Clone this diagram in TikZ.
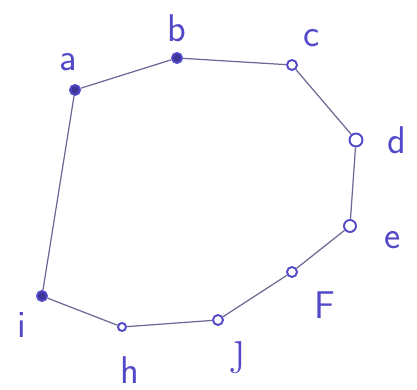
\documentclass[tikz,border=0pt]{standalone}
\usepackage{tikz}
\usepackage{xcolor}

\definecolor{ink}{RGB}{82,72,200}
\definecolor{pencil}{RGB}{105,105,150}

\begin{document}
\begin{tikzpicture}[
        vertex/.style={circle, draw=ink, line width=1.1pt, inner sep=0pt, minimum size=0.2cm, fill=white},
        heavy/.style={vertex, fill=ink!75!black},
        edge/.style={draw=pencil, line width=0.7pt},
        letter/.style={text=ink, font=\fontsize{22}{22}\sffamily, inner sep=0pt}
    ]
        \useasboundingbox (0,0) rectangle (8.34,7.8);

        \node[heavy] (a) at (1.50,6.00) {};
        \node[heavy] (b) at (3.54,6.64) {};
        \node[vertex] (c) at (5.84,6.50) {};
        \node[vertex, minimum size=0.26cm] (d) at (7.12,5.00) {};
        \node[vertex, minimum size=0.24cm] (e) at (7.00,3.28) {};
        \node[vertex] (f) at (5.84,2.36) {};
        \node[vertex] (g) at (4.36,1.40) {};
        \node[vertex, minimum size=0.16cm] (h) at (2.44,1.26) {};
        \node[heavy] (i) at (0.84,1.88) {};

        \draw[edge] (a) -- (b);
        \draw[edge] (b) -- (c);
        \draw[edge] (c) -- (d);
        \draw[edge] (d) -- (e);
        \draw[edge] (e) -- (f);
        \draw[edge] (f) -- (g);
        \draw[edge] (g) -- (h);
        \draw[edge] (h) -- (i);
        \draw[edge] (i) -- (a);

        \node[letter] (la) at (1.36,6.56) {a};
        \node[letter] (lb) at (3.54,7.24) {b};
        \node[letter] (lc) at (6.24,7.04) {c};
        \node[letter] (ld) at (7.94,5.00) {d};
        \node[letter] (le) at (7.86,3.00) {e};
        \node[letter] (lf) at (6.50,1.70) {F};
        \node[letter, scale=1.3] (lg) at (4.78,0.64) {\rmfamily\j};
        \node[letter] (lh) at (2.60,0.40) {h};
        \node[letter] (li) at (0.44,1.30) {i};
    \end{tikzpicture}
\end{document}
